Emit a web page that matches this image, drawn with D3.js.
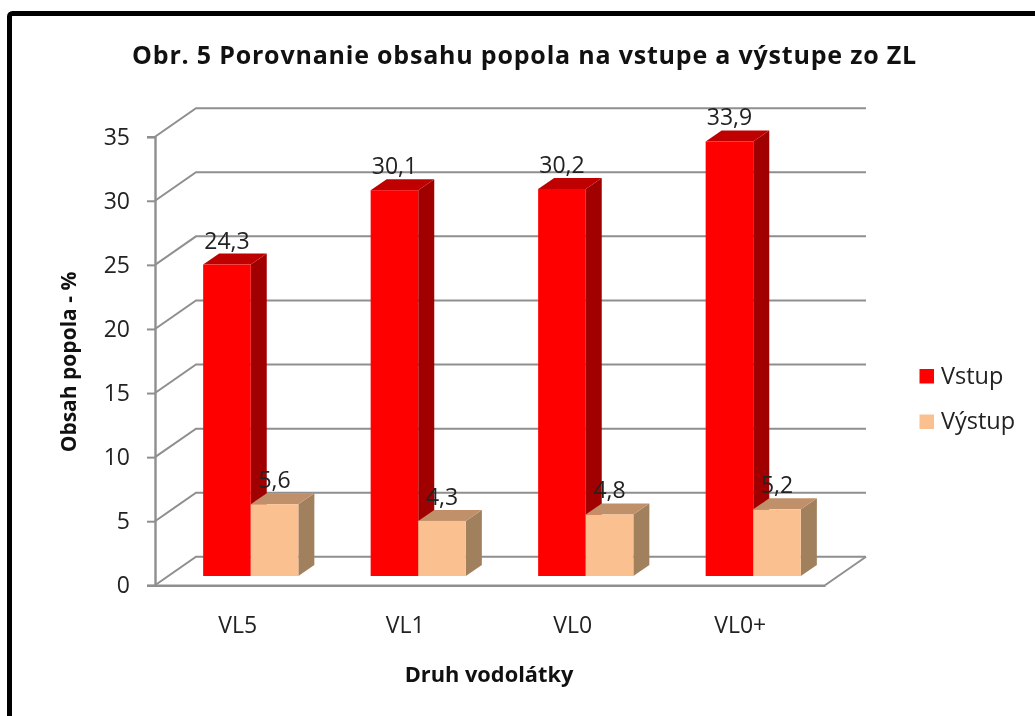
<!DOCTYPE html>
<html>
<head>
<meta charset="utf-8">
<script src="https://cdn.jsdelivr.net/npm/d3@7"></script>
<style>
  html, body { margin: 0; padding: 0; background: #fff; overflow: hidden; }
  text { font-family: "Open Sans", sans-serif; fill: #222; }
  svg { filter: blur(0.4px); }
</style>
</head>
<body>
<div id="chart"></div>
<script>
const categories = ["VL5", "VL1", "VL0", "VL0+"];
const seriesNames = ["Vstup", "Výstup"];
const vstup = [24.3, 30.1, 30.2, 33.9];
const vystup = [5.6, 4.3, 4.8, 5.2];
const yTicks = [0, 5, 10, 15, 20, 25, 30, 35];

const width = 1035, height = 716;
const svg = d3.select("#chart").append("svg")
  .attr("width", width)
  .attr("height", height);

// picture frame, runs off the right and bottom edge
svg.append("rect")
  .attr("x", 9.5).attr("y", 13.5)
  .attr("width", 1100).attr("height", 800)
  .attr("rx", 3)
  .attr("fill", "#fff")
  .attr("stroke", "#000")
  .attr("stroke-width", 5);

const x = d3.scaleBand().domain(categories).range([155, 825]);
const y = d3.scaleLinear().domain([0, 35]).range([585.3, 136.7]);

const wall = { dx: 41, dy: -28.5 };      // front plane to back wall
const barShift = { dx: 12, dy: -9.3 };   // front plane to bar front
const barDepth = { dx: 16, dy: -11 };
const barW = 47.6;

const gridColor = "#8f8f8f";
const grid = svg.append("g")
  .attr("fill", "none")
  .attr("stroke", gridColor)
  .attr("stroke-width", 2);

// back wall lines and the diagonals on the side wall
yTicks.forEach(t => {
  grid.append("path")
    .attr("d", d3.line()([
      [x.range()[0], y(t)],
      [x.range()[0] + wall.dx, y(t) + wall.dy],
      [x.range()[1] + wall.dx, y(t) + wall.dy]
    ]));
});

// floor front edge
grid.append("path")
  .attr("d", d3.line()([
    [x.range()[1] + wall.dx, y(0) + wall.dy],
    [x.range()[1], y(0)]
  ]));

const yAxis = d3.axisLeft(y).tickValues(yTicks).tickSize(8).tickPadding(17);
const xAxis = d3.axisBottom(x).tickSize(0).tickPadding(31.5);

const yG = svg.append("g").attr("transform", "translate(155,0)").call(yAxis);
yG.select(".domain").attr("stroke", gridColor).attr("stroke-width", 2.4);
yG.selectAll(".tick line").attr("stroke", gridColor).attr("stroke-width", 2);
yG.selectAll("text").style("font-family", '"Open Sans", sans-serif').style("font-size", "23px").attr("fill", "#222");

const xG = svg.append("g").attr("transform", `translate(0,${y(0)})`).call(xAxis);
xG.select(".domain").attr("stroke", gridColor).attr("stroke-width", 2.4);
xG.selectAll("text").style("font-family", '"Open Sans", sans-serif').style("font-size", "23px").attr("fill", "#222").attr("dx", -1);

function drawBar(g, cat, value, offset, colors) {
  const x0 = x(cat) + x.bandwidth() / 2 + barShift.dx + offset;
  const x1 = x0 + barW;
  const yb = y(0) + barShift.dy;
  const yt = y(value) + barShift.dy;
  const d = barDepth;
  g.append("polygon").attr("fill", colors[2])
    .attr("points", [[x1, yb], [x1 + d.dx, yb + d.dy], [x1 + d.dx, yt + d.dy], [x1, yt]].join(" "));
  g.append("polygon").attr("fill", colors[1])
    .attr("points", [[x0, yt], [x0 + d.dx, yt + d.dy], [x1 + d.dx, yt + d.dy], [x1, yt]].join(" "));
  g.append("rect").attr("fill", colors[0])
    .attr("x", x0).attr("y", yt).attr("width", barW).attr("height", yb - yt);
}

const redColors = ["#ff0000", "#bf0000", "#a00000"];
const tanColors = ["#fac090", "#bf9069", "#a1805e"];

const bars = svg.append("g");
categories.forEach((c, i) => {
  drawBar(bars, c, vstup[i], -barW, redColors);
  drawBar(bars, c, vystup[i], 0, tanColors);
});

// value labels go on top of every bar
const fmt = v => String(v).replace(".", ",");
const labels = svg.append("g").attr("text-anchor", "middle").style("font-size", "23px");
categories.forEach((c, i) => {
  const cx = x(c) + x.bandwidth() / 2 + barShift.dx;
  labels.append("text")
    .attr("x", cx - barW / 2)
    .attr("y", y(vstup[i]) + barShift.dy + barDepth.dy - 5)
    .text(fmt(vstup[i]));
  labels.append("text")
    .attr("x", cx + barW / 2)
    .attr("y", y(vystup[i]) + barShift.dy + barDepth.dy - 5)
    .text(fmt(vystup[i]));
});

// legend
const legendY = [369, 414.5];
seriesNames.forEach((name, i) => {
  svg.append("rect")
    .attr("x", 919.5).attr("y", legendY[i])
    .attr("width", 14.5).attr("height", 14.5)
    .attr("fill", i === 0 ? redColors[0] : tanColors[0]);
  svg.append("text")
    .attr("x", 941).attr("y", legendY[i] + 14.5)
    .style("font-size", "23.5px")
    .text(name);
});

// titles
svg.append("text")
  .attr("x", 524.5).attr("y", 64)
  .attr("text-anchor", "middle")
  .style("font-size", "25px").style("font-weight", 700).style("fill", "#111")
  .style("letter-spacing", "0.8px")
  .text("Obr. 5 Porovnanie obsahu popola na vstupe a výstupe zo ZL");

svg.append("text")
  .attr("transform", "translate(76,362) rotate(-90)")
  .attr("text-anchor", "middle")
  .style("font-size", "21px").style("font-weight", 700).style("fill", "#111")
  .text("Obsah popola - %");

svg.append("text")
  .attr("x", 489).attr("y", 682)
  .attr("text-anchor", "middle")
  .style("font-size", "21.8px").style("font-weight", 700).style("fill", "#111")
  .text("Druh vodolátky");
</script>
</body>
</html>
